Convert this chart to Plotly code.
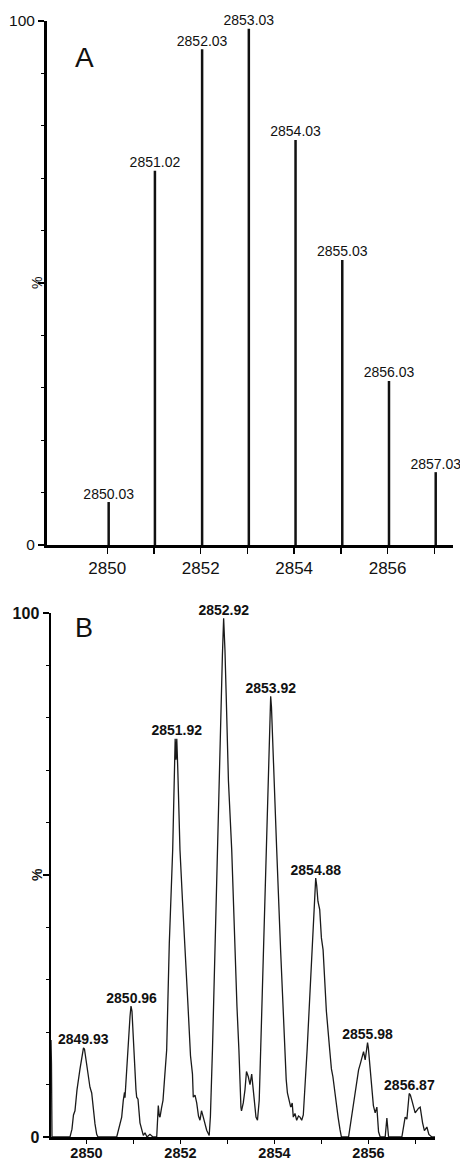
import plotly.graph_objects as go

# ---------------- Data ----------------
# Panel A: theoretical isotope distribution (stick spectrum)
mz_A = [2850.03, 2851.02, 2852.03, 2853.03, 2854.03, 2855.03, 2856.03, 2857.03]
int_A = [8.2, 71.4, 94.6, 98.5, 77.3, 54.4, 31.3, 13.9]
labels_A = ["2850.03", "2851.02", "2852.03", "2853.03", "2854.03", "2855.03", "2856.03", "2857.03"]

mz_B = [
    2849.245, 2849.255, 2849.266, 2849.649, 2849.691, 2849.723, 2849.755, 2849.798, 2849.862, 2849.904,
    2849.936, 2849.957, 2849.989, 2850.032, 2850.074, 2850.111, 2850.138, 2850.181, 2850.217, 2850.245,
    2850.643, 2850.691, 2850.749, 2850.783, 2850.809, 2850.819, 2850.855, 2850.889, 2850.926, 2850.947,
    2850.968, 2850.996, 2851.021, 2851.032, 2851.053, 2851.068, 2851.096, 2851.138, 2851.170, 2851.209,
    2851.245, 2851.287, 2851.351, 2851.415, 2851.494, 2851.528, 2851.549, 2851.564, 2851.596, 2851.628,
    2851.660, 2851.706, 2851.762, 2851.834, 2851.872, 2851.887, 2851.904, 2851.921, 2851.943, 2851.989,
    2852.043, 2852.096, 2852.160, 2852.213, 2852.238, 2852.255, 2852.272, 2852.309, 2852.345, 2852.383,
    2852.415, 2852.447, 2852.485, 2852.521, 2852.557, 2852.611, 2852.637, 2852.680, 2852.733, 2852.790,
    2852.829, 2852.860, 2852.892, 2852.918, 2852.931, 2852.946, 2852.971, 2853.020, 2853.090, 2853.158,
    2853.201, 2853.243, 2853.265, 2853.286, 2853.298, 2853.336, 2853.372, 2853.404, 2853.443, 2853.479,
    2853.515, 2853.543, 2853.574, 2853.606, 2853.638, 2853.675, 2853.706, 2853.768, 2853.828, 2853.866,
    2853.898, 2853.919, 2853.936, 2853.951, 2853.983, 2854.047, 2854.130, 2854.213, 2854.249, 2854.275,
    2854.302, 2854.345, 2854.377, 2854.400, 2854.436, 2854.472, 2854.511, 2854.543, 2854.579, 2854.613,
    2854.694, 2854.732, 2854.800, 2854.839, 2854.877, 2854.898, 2854.924, 2854.962, 2854.998, 2855.034,
    2855.104, 2855.175, 2855.211, 2855.243, 2855.281, 2855.317, 2855.353, 2855.392, 2855.424, 2855.576,
    2855.625, 2855.683, 2855.731, 2855.789, 2855.827, 2855.859, 2855.895, 2855.929, 2855.955, 2855.980,
    2855.997, 2856.036, 2856.072, 2856.104, 2856.142, 2856.178, 2856.214, 2856.249, 2856.355, 2856.391,
    2856.427, 2856.710, 2856.780, 2856.817, 2856.866, 2856.891, 2856.923, 2856.959, 2856.993, 2857.066,
    2857.100, 2857.151, 2857.189, 2857.242, 2857.285, 2857.349, 2857.415,
]
int_B = [
    18.5, 14, 0, 0, 1.5, 4.2, 5, 9, 13, 15.5,
    17, 16.8, 14.5, 11.5, 9.5, 8.4, 6, 2.5, 0.5, 0,
    0, 1.5, 3.8, 7, 8.5, 7.5, 13.4, 18, 23, 25,
    24, 19, 14, 10.3, 9, 7.6, 7.2, 2.7, 1.5, 0.3,
    0.8, 0, 0.5, 0, 0, 6, 4, 3.8, 5.5, 7,
    11, 16.6, 37, 54.8, 70, 76, 72, 76, 70, 54.8,
    45, 37, 25, 15.5, 13.4, 12, 7.6, 8, 6.5, 4,
    3.2, 5, 3.8, 2.5, 1.3, 0.3, 4, 16.6, 35.7, 54.8,
    68, 84.8, 92, 99, 97, 93, 84.8, 68, 54.8, 35.7,
    25, 16.6, 10, 5.7, 5, 6.5, 9, 12.5, 11.5, 10,
    12, 9, 6, 3.8, 3.2, 7, 16.6, 35.7, 54.8, 68,
    80, 84.1, 82, 78, 70, 54.8, 35.7, 16.6, 11, 8.4,
    7.5, 5.7, 6.5, 3.8, 4.5, 3.2, 4, 3.8, 3.2, 4.2,
    16.6, 24, 35.7, 43, 49.4, 48, 45, 43.4, 38, 35.7,
    24, 16.6, 13, 11.5, 8.4, 6, 3.8, 1.5, 0, 0,
    3, 7, 10, 12.8, 14, 15.3, 16.3, 14.7, 16.5, 18,
    17, 13.4, 9.5, 6, 4.6, 5.7, 1, 0, 0, 3.6,
    0, 0, 3.8, 3.4, 8.3, 8, 7, 6, 4.6, 5.5,
    5.7, 2.7, 1.2, 1.9, 0.5, 0, 0,
]
labels_B = ["2849.93", "2850.96", "2851.92", "2852.92", "2853.92", "2854.88", "2855.98", "2856.87"]
label_mz_B = [2849.93, 2850.96, 2851.92, 2852.92, 2853.92, 2854.88, 2855.98, 2856.87]
label_int_B = [17, 25, 76, 99, 84.1, 49.4, 18, 8.3]

tick_vals = [2850, 2851, 2852, 2853, 2854, 2855, 2856, 2857]
tick_text = ["2850", "", "2852", "", "2854", "", "2856", ""]
y_tick_vals = [0, 50, 100]
y_tick_text = ["0", "", "100"]

# ---------------- Figure ----------------
W, H = 460, 1162
FONT = "Liberation Sans, Arial, sans-serif"

# stick segments for panel A
seg_x, seg_y = [], []
for m, v in zip(mz_A, int_A):
    seg_x += [m, m, None]
    seg_y += [0, v, None]

fig = go.Figure()
fig.add_trace(go.Scatter(x=seg_x, y=seg_y, mode="lines",
                         line=dict(color="#111111", width=2.5),
                         xaxis="x", yaxis="y", hoverinfo="skip"))
fig.add_trace(go.Scatter(x=mz_A, y=int_A, mode="text", text=labels_A,
                         textposition="top center", cliponaxis=False,
                         textfont=dict(family=FONT, size=14, color="#111111"),
                         xaxis="x", yaxis="y", hoverinfo="skip"))

fig.add_trace(go.Scatter(x=mz_B, y=int_B, mode="lines",
                         line=dict(color="#1a1a1a", width=1.3),
                         xaxis="x2", yaxis="y2", hoverinfo="skip"))
fig.add_trace(go.Scatter(x=label_mz_B, y=label_int_B, mode="text", text=labels_B,
                         textposition="top center", cliponaxis=False,
                         textfont=dict(family=FONT, size=14, color="#111111", weight="bold"),
                         xaxis="x2", yaxis="y2", hoverinfo="skip"))


def px_x(p):
    return p / W


def px_y(p):
    return 1 - p / H


common_x = dict(showline=True, linecolor="black", ticks="outside", tickcolor="black",
                tickvals=tick_vals, ticktext=tick_text, showgrid=False, zeroline=False,
                tickwidth=1.5, automargin=False)
common_y = dict(showline=True, linecolor="black", ticks="outside", tickcolor="black",
                tickvals=y_tick_vals, ticktext=y_tick_text, showgrid=False, zeroline=False,
                range=[0, 100], ticklen=6, tickwidth=1.5, automargin=False,
                minor=dict(dtick=10, ticks="outside", ticklen=3, tickwidth=1, tickcolor="black"))

fig.update_layout(
    width=W, height=H, margin=dict(l=0, r=0, t=0, b=0, autoexpand=False),
    paper_bgcolor="white", plot_bgcolor="white", showlegend=False,
    xaxis=dict(**common_x, domain=[px_x(47), px_x(453)], range=[2848.71, 2857.40],
               anchor="y", linewidth=3, ticklen=6,
               tickfont=dict(family=FONT, size=17, color="#111111")),
    yaxis=dict(**common_y, domain=[px_y(545), px_y(21)], anchor="x", linewidth=3,
               tickfont=dict(family=FONT, size=15.5, color="#111111")),
    xaxis2=dict(**common_x, domain=[px_x(51), px_x(435)], range=[2849.245, 2857.415],
                anchor="y2", linewidth=2.5, ticklen=4, ticklabelstandoff=-3,
                tickfont=dict(family=FONT, size=14.5, color="#111111", weight="bold")),
    yaxis2=dict(**common_y, domain=[px_y(1137), px_y(613)], anchor="x2", linewidth=2.5,
                tickfont=dict(family=FONT, size=16, color="#111111", weight="bold")),
)

annotations = [
    dict(text="A", x=px_x(73), y=px_y(40), xref="paper", yref="paper",
         showarrow=False, font=dict(family=FONT, size=28, color="#111111")),
    dict(text="B", x=px_x(73), y=px_y(628), xref="paper", yref="paper",
         showarrow=False, font=dict(family=FONT, size=27, color="#111111")),
    dict(text="%", x=px_x(27), y=50, xref="paper", yref="y", textangle=-90,
         showarrow=False, font=dict(family=FONT, size=14, color="#111111")),
    dict(text="%", x=px_x(27), y=50, xref="paper", yref="y2", textangle=-90,
         showarrow=False, font=dict(family=FONT, size=14, color="#111111", weight="bold")),
]
fig.update_layout(annotations=annotations)

fig.write_html(
    "out.html",
    config={"displayModeBar": False, "staticPlot": True},
    post_script="document.body.style.margin='0';document.body.style.overflow='hidden';",
)
